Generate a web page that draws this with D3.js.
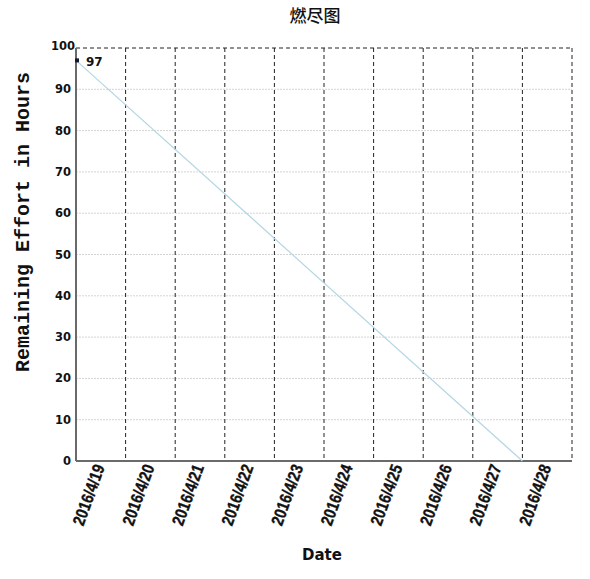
<!DOCTYPE html>
<html>
<head>
<meta charset="utf-8">
<script src="https://cdn.jsdelivr.net/npm/d3@7/dist/d3.min.js"></script>
<style>
  html, body { margin: 0; padding: 0; background: #fff; }
  svg { display: block; }
</style>
</head>
<body>
<script>
// ---- data ----
const chartTitle = "燃尽图";
const xTitle = "Date";
const yTitle = "Remaining Effort in Hours";
const dateLabels = ["2016/4/19","2016/4/20","2016/4/21","2016/4/22","2016/4/23","2016/4/24","2016/4/25","2016/4/26","2016/4/27","2016/4/28"];
const gridDates = ["2016/4/20","2016/4/21","2016/4/22","2016/4/23","2016/4/24","2016/4/25","2016/4/26","2016/4/27","2016/4/28","2016/4/29"];
const idealDates = ["2016/4/19","2016/4/28"];
const idealValues = [97, 0];
const actualDates = ["2016/4/19"];
const actualValues = [97];
const yTicks = [0,10,20,30,40,50,60,70,80,90,100];

// ---- layout ----
const W = 590, H = 579;
const m = { left: 76, right: 18, top: 48, bottom: 118 };
const parse = d3.timeParse("%Y/%m/%d");

const svg = d3.select("body").append("svg").attr("width", W).attr("height", H);

const x = d3.scaleTime()
  .domain([parse("2016/4/19"), parse("2016/4/29")])
  .range([m.left, W - m.right]);
const y = d3.scaleLinear().domain([0, 100]).range([H - m.bottom, m.top]);

// horizontal grid
svg.append("g").selectAll("line").data(yTicks.filter(v => v > 0 && v < 100)).join("line")
  .attr("x1", m.left).attr("x2", W - m.right)
  .attr("y1", d => y(d)).attr("y2", d => y(d))
  .attr("stroke", "#d4d4d4").attr("stroke-width", 1).attr("stroke-dasharray", "2,1");

// top dashed border
svg.append("line")
  .attr("x1", m.left).attr("x2", W - m.right)
  .attr("y1", y(100)).attr("y2", y(100))
  .attr("stroke", "#222").attr("stroke-width", 1).attr("stroke-dasharray", "4,3");

// vertical dashed lines
svg.append("g").selectAll("line").data(gridDates).join("line")
  .attr("x1", d => x(parse(d))).attr("x2", d => x(parse(d)))
  .attr("y1", y(100)).attr("y2", y(0))
  .attr("stroke", "#222").attr("stroke-width", 1).attr("stroke-dasharray", "4,3");

// axes lines
svg.append("line").attr("x1", m.left).attr("x2", m.left).attr("y1", y(100)).attr("y2", y(0))
  .attr("stroke", "#6a6a6a").attr("stroke-width", 2);
svg.append("line").attr("x1", m.left).attr("x2", W - m.right).attr("y1", y(0)).attr("y2", y(0))
  .attr("stroke", "#6a6a6a").attr("stroke-width", 2);

// y tick labels
svg.append("g").selectAll("text").data(yTicks).join("text")
  .attr("x", d => d === 100 ? m.left - 1 : m.left - 5)
  .attr("y", d => y(d) + (d === 100 ? 2 : 4))
  .attr("text-anchor", "end")
  .attr("font-family", "DejaVu Sans, sans-serif").attr("font-weight", "bold").attr("font-size", 11.5)
  .attr("fill", "#111")
  .text(d => d);

// x tick labels (condensed bold)
svg.append("g").selectAll("text").data(dateLabels).join("text")
  .attr("transform", d => `translate(${x(parse(d)) + 29},${y(0) + 6}) rotate(-70) scale(0.84,1)`)
  .attr("text-anchor", "end")
  .attr("font-family", "Liberation Sans, Arial, sans-serif")
  .attr("font-weight", "bold").attr("font-size", 17)
  .attr("fill", "#111").attr("stroke", "#111").attr("stroke-width", 0.35)
  .text(d => d);

// ideal line
const line = d3.line().x(d => x(d[0])).y(d => y(d[1]));
svg.append("path")
  .datum(idealDates.map((d, i) => [parse(d), idealValues[i]]))
  .attr("d", line).attr("fill", "none")
  .attr("stroke", "#b4d6e4").attr("stroke-width", 1.2);

// actual points
const act = actualDates.map((d, i) => [parse(d), actualValues[i]]);
svg.append("g").selectAll("rect").data(act).join("rect")
  .attr("x", d => x(d[0]) - 1).attr("y", d => y(d[1]) - 2)
  .attr("width", 4).attr("height", 4)
  .attr("fill", "#141830");
svg.append("g").selectAll("text").data(act).join("text")
  .attr("x", d => x(d[0]) + 10).attr("y", d => y(d[1]) + 6)
  .attr("font-family", "DejaVu Sans, sans-serif").attr("font-weight", "bold").attr("font-size", 12)
  .attr("fill", "#111")
  .text(d => d[1]);

// titles
svg.append("text").attr("x", 315).attr("y", 22).attr("text-anchor", "middle")
  .attr("font-family", "Noto Sans CJK SC, sans-serif").attr("font-size", 17).attr("font-weight", 500)
  .attr("fill", "#111")
  .text(chartTitle);
svg.append("text").attr("x", 322).attr("y", 560).attr("text-anchor", "middle")
  .attr("font-family", "DejaVu Sans, sans-serif").attr("font-weight", "bold").attr("font-size", 15)
  .attr("fill", "#111")
  .text(xTitle);
svg.append("text").attr("transform", "translate(29,222) rotate(-90)").attr("text-anchor", "middle")
  .attr("font-family", "Liberation Mono, Courier New, monospace").attr("font-weight", "bold").attr("font-size", 20)
  .attr("fill", "#111")
  .text(yTitle);
</script>
</body>
</html>
